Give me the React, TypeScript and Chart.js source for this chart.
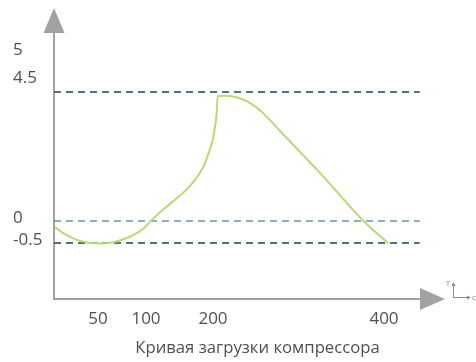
import { useEffect, useRef } from 'react';
import { Chart, registerables } from 'chart.js';

Chart.register(...registerables);

// ---- data ----
const timeValues = [1, 12.5, 26, 41, 52, 64, 76, 88.5, 99, 108.5, 126, 146, 161, 176, 185.5, 193, 199.6, 202.3, 204.3, 205.5, 216, 231.6, 245.3, 257, 266.7, 278.4, 301.8, 327.5, 375.4, 404.7];
const loadValues = [-0.14, -0.3, -0.43, -0.5, -0.51, -0.49, -0.42, -0.3, -0.14, 0.03, 0.41, 0.79, 1.11, 1.52, 1.89, 2.34, 2.83, 3.29, 3.76, 4.36, 4.37, 4.28, 4.08, 3.81, 3.52, 3.14, 2.41, 1.6, 0.02, -0.5];

const xTickValues = [50, 100, 200, 400];
const xTickLabels = ['50', '100', '200', '400'];
const yTickValues = [5, 4.5, 0, -0.5];
const yTickLabels = ['5', '4.5', '0', '-0.5'];

const refLevels = [4.5, 0, -0.5];
const refColors = ['#17455c', '#6a93a8', '#17455c'];
const refStart = 0;
const refEnd = 442;

const titleText = 'Кривая загрузки компрессора';
const unitY = 'T';
const unitX = 'c';

// ---- schematic (non-linear) axis definitions: value -> px along axis ----
const X_SPAN = 391;
const X_BREAKS: [number, number][] = [[0, 0], [50, 44], [100, 92], [200, 159], [400, 330], [460, 381]];
const Y_SPAN = 291;
const Y_BREAKS: [number, number][] = [[-1.77, 0], [-0.5, 56], [0, 78], [4.5, 207], [5, 249], [5.5, 291]];

function warp(v: number, breaks: [number, number][], span: number): number {
  let i = 0;
  while (i < breaks.length - 2 && v > breaks[i + 1][0]) i++;
  const [v0, p0] = breaks[i];
  const [v1, p1] = breaks[i + 1];
  const p = p0 + ((v - v0) / (v1 - v0)) * (p1 - p0);
  return p / span;
}
const wx = (v: number) => warp(v, X_BREAKS, X_SPAN);
const wy = (v: number) => warp(v, Y_BREAKS, Y_SPAN);

const FONT = '"Open Sans", "DejaVu Sans", sans-serif';
const AXIS_COLOR = '#a2a2a4';
const TEXT_COLOR = '#505050';
const yLabelNudge: Record<string, number> = { '5': 0, '4.5': -14, '0': -3, '-0.5': -3 };

const axesPlugin = {
  id: 'schematicAxes',
  beforeDatasetsDraw(chart: any) {
    const { ctx, chartArea: a } = chart;
    ctx.save();
    ctx.strokeStyle = AXIS_COLOR;
    ctx.fillStyle = AXIS_COLOR;
    ctx.lineWidth = 2;
    // y axis
    ctx.beginPath();
    ctx.moveTo(a.left, a.bottom + 1);
    ctx.lineTo(a.left, a.top + 25);
    ctx.stroke();
    ctx.beginPath();
    ctx.moveTo(a.left, a.top);
    ctx.lineTo(a.left - 10.5, a.top + 25);
    ctx.lineTo(a.left + 10.5, a.top + 25);
    ctx.closePath();
    ctx.fill();
    // x axis
    ctx.beginPath();
    ctx.moveTo(a.left - 1, a.bottom);
    ctx.lineTo(a.right - 25, a.bottom);
    ctx.stroke();
    ctx.beginPath();
    ctx.moveTo(a.right, a.bottom);
    ctx.lineTo(a.right - 25, a.bottom - 11);
    ctx.lineTo(a.right - 25, a.bottom + 11);
    ctx.closePath();
    ctx.fill();
    ctx.restore();
  },
  afterDraw(chart: any) {
    const { ctx, chartArea: a, scales } = chart;
    const xs = scales.x;
    const ys = scales.y;
    ctx.save();
    ctx.fillStyle = TEXT_COLOR;
    ctx.font = `17px ${FONT}`;
    ctx.textBaseline = 'middle';
    // x tick labels
    ctx.textAlign = 'center';
    xTickValues.forEach((v, i) => {
      ctx.fillText(xTickLabels[i], xs.getPixelForValue(wx(v)), a.bottom + 20);
    });
    // y tick labels
    ctx.textAlign = 'left';
    yTickValues.forEach((v, i) => {
      const lbl = yTickLabels[i];
      ctx.fillText(lbl, 13, ys.getPixelForValue(wy(v)) + (yLabelNudge[lbl] || 0));
    });
    // title
    ctx.textAlign = 'center';
    ctx.font = `16.7px ${FONT}`;
    ctx.fillText(titleText, (a.left + a.right) / 2 + 8, a.bottom + 49);
    // small unit glyph near arrow
    const gx = a.right + 8;
    const gy = a.bottom - 1;
    ctx.strokeStyle = '#8a8a8a';
    ctx.fillStyle = '#8a8a8a';
    ctx.lineWidth = 1;
    ctx.beginPath();
    ctx.moveTo(gx + 0.5, gy);
    ctx.lineTo(gx + 0.5, gy - 13);
    ctx.moveTo(gx, gy - 0.5);
    ctx.lineTo(gx + 15, gy - 0.5);
    ctx.stroke();
    ctx.beginPath();
    ctx.moveTo(gx + 0.5, gy - 16);
    ctx.lineTo(gx - 1.5, gy - 12);
    ctx.lineTo(gx + 2.5, gy - 12);
    ctx.closePath();
    ctx.fill();
    ctx.beginPath();
    ctx.moveTo(gx + 18, gy - 0.5);
    ctx.lineTo(gx + 14, gy - 2.5);
    ctx.lineTo(gx + 14, gy + 1.5);
    ctx.closePath();
    ctx.fill();
    ctx.font = `8px ${FONT}`;
    ctx.textAlign = 'center';
    ctx.fillText(unitY, gx - 5, gy - 14);
    ctx.textAlign = 'left';
    ctx.fillText(unitX, gx + 19, gy);
    ctx.restore();
  },
};

export default function App() {
  const ref = useRef<HTMLCanvasElement | null>(null);

  useEffect(() => {
    if (!ref.current) return;
    const curve = timeValues.map((t, i) => ({ x: wx(t), y: wy(loadValues[i]) }));
    const refSets = refLevels.map((lv, i) => ({
      data: [
        { x: wx(refStart), y: wy(lv) },
        { x: wx(refEnd), y: wy(lv) },
      ],
      borderColor: refColors[i],
      borderWidth: 1.3,
      borderDash: [7, 5],
      pointRadius: 0,
      fill: false,
      clip: false as any,
    }));
    const chart = new Chart(ref.current, {
      type: 'line',
      data: {
        datasets: [
          {
            data: curve,
            borderColor: '#b9da72',
            borderWidth: 2,
            pointRadius: 0,
            cubicInterpolationMode: 'monotone',
            fill: false,
            clip: false as any,
          },
          ...refSets,
        ] as any,
      },
      options: {
        responsive: false,
        animation: false,
        layout: { padding: { left: 54, right: 31, top: 8, bottom: 63 } },
        plugins: { legend: { display: false }, tooltip: { enabled: false }, title: { display: false } },
        scales: {
          x: { type: 'linear', min: 0, max: 1, display: false },
          y: { type: 'linear', min: 0, max: 1, display: false },
        },
      },
      plugins: [axesPlugin],
    });
    return () => chart.destroy();
  }, []);

  return (
    <div style={{ position: 'absolute', left: 0, top: 0, width: 476, height: 362, background: '#fff' }}>
      <canvas ref={ref} width={476} height={362} style={{ width: 476, height: 362 }} />
    </div>
  );
}
